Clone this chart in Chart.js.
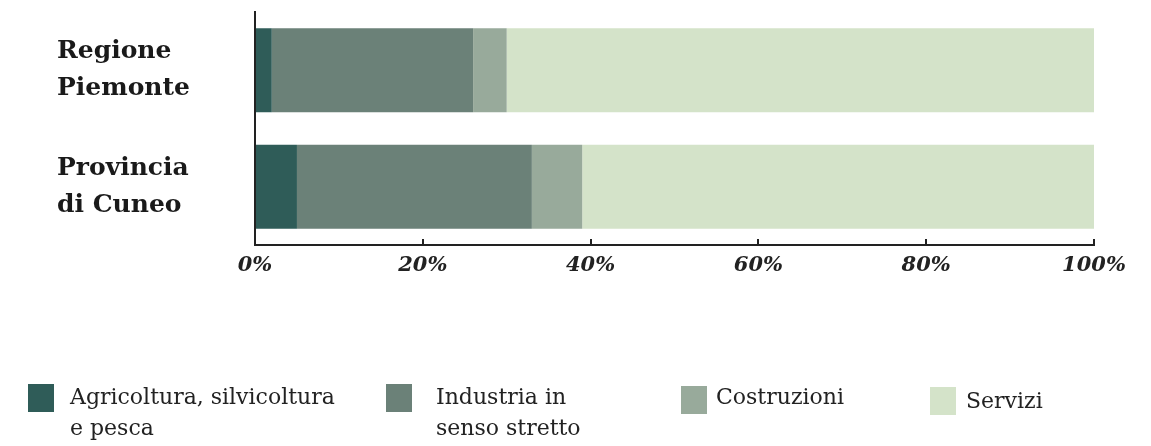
<!DOCTYPE html>
<html>
<head>
<meta charset="utf-8">
<script src="https://cdn.jsdelivr.net/npm/chart.js@4.4.1/dist/chart.umd.min.js"></script>
<style>
  html, body { margin: 0; padding: 0; background: #ffffff; }
  #wrap { width: 1151px; height: 446px; position: relative; }
</style>
</head>
<body>
<div id="wrap"><canvas id="c" width="1151" height="446"></canvas></div>
<script>
const categories = [["Regione", "Piemonte"], ["Provincia", "di Cuneo"]];
const seriesNames = ["Agricoltura, silvicoltura e pesca", "Industria in senso stretto", "Costruzioni", "Servizi"];
const legendLines = [["Agricoltura, silvicoltura", "e pesca"], ["Industria in", "senso stretto"], ["Costruzioni"], ["Servizi"]];
const agricoltura = [2, 5];
const industria = [24, 28];
const costruzioni = [4, 6];
const servizi = [70, 61];
const tickValues = [0, 20, 40, 60, 80, 100];
const seriesColors = ["#2f5c58", "#6b8178", "#98aa9b", "#d4e3c9"];

const seriesValues = [agricoltura, industria, costruzioni, servizi];

const legendPlugin = {
  id: 'customLegend',
  afterDraw(chart, args, opts) {
    const ctx = chart.ctx;
    ctx.save();
    chart.data.datasets.forEach((ds, i) => {
      const it = opts.items[i];
      ctx.fillStyle = ds.backgroundColor;
      ctx.fillRect(it.bx, it.by, opts.boxW, opts.boxH);
      ctx.fillStyle = opts.color;
      ctx.font = opts.font;
      ctx.textBaseline = 'middle';
      ctx.textAlign = 'left';
      legendLines[i].forEach((line, k) => {
        ctx.fillText(line, it.tx, it.ty + k * opts.lineGap);
      });
    });
    ctx.restore();
  }
};

const chart = new Chart(document.getElementById('c'), {
  type: 'bar',
  data: {
    labels: categories,
    datasets: seriesNames.map((name, i) => ({
      label: name,
      data: seriesValues[i],
      backgroundColor: seriesColors[i],
      borderWidth: 0,
      categoryPercentage: 1.0,
      barPercentage: 0.72
    }))
  },
  options: {
    indexAxis: 'y',
    responsive: false,
    animation: false,
    devicePixelRatio: 1,
    layout: { padding: { left: 57, top: 12, right: 57, bottom: 161 } },
    plugins: {
      legend: { display: false },
      tooltip: { enabled: false },
      customLegend: {
        boxW: 26, boxH: 28,
        font: '22px "DejaVu Serif"',
        color: '#222222',
        lineGap: 31,
        items: [
          { bx: 28, by: 384, tx: 70, ty: 398 },
          { bx: 386, by: 384, tx: 436, ty: 398 },
          { bx: 681, by: 386, tx: 716, ty: 398 },
          { bx: 930, by: 387, tx: 966, ty: 402 }
        ]
      }
    },
    scales: {
      x: {
        stacked: true,
        min: 0,
        max: 100,
        afterBuildTicks: (scale) => { scale.ticks = tickValues.map(v => ({ value: v })); },
        afterFit: (scale) => { scale.height = 40; scale.paddingLeft = 0; scale.paddingRight = 0; },
        border: { display: true, color: '#222222', width: 2 },
        grid: { drawOnChartArea: false, drawTicks: true, tickLength: -6, color: '#222222', lineWidth: 2 },
        ticks: {
          padding: 14,
          color: '#222222',
          font: { family: '"DejaVu Serif"', size: 21, weight: 'bold', style: 'italic' },
          maxRotation: 0,
          callback: (v) => v + '%'
        }
      },
      y: {
        stacked: true,
        afterFit: (scale) => { scale.width = 198; scale.paddingTop = 0; scale.paddingBottom = 0; },
        border: { display: true, color: '#222222', width: 2 },
        grid: { display: true, drawOnChartArea: false, drawTicks: false },
        ticks: {
          crossAlign: 'far',
          padding: 0,
          color: '#1a1a1a',
          font: { family: '"DejaVu Serif"', size: 25, weight: 'bold', lineHeight: 1.48 }
        }
      }
    }
  },
  plugins: [legendPlugin]
});
</script>
</body>
</html>
